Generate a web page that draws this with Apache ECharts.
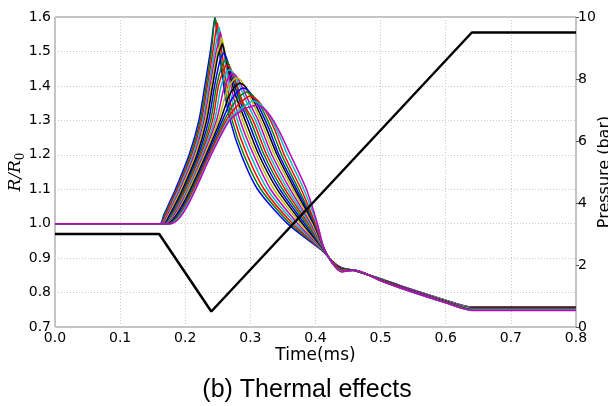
<!DOCTYPE html>
<html><head><meta charset="utf-8">
<script src="https://cdn.jsdelivr.net/npm/echarts@6/dist/echarts.min.js"></script>
<style>html,body{margin:0;padding:0;background:#fff}#c{width:608px;height:406px}</style>
</head><body><div id="c"></div>
<script>
// Time (ms) ticks
const timeTicks = [0.0,0.1,0.2,0.3,0.4,0.5,0.6,0.7,0.8];
const radiusTicks = [0.7,0.8,0.9,1.0,1.1,1.2,1.3,1.4,1.5,1.6];
const pressureTicks = [0,2,4,6,8,10];

// Pressure signal: [time (ms), pressure (bar)]
const pressureTime = [0, 0.16, 0.24, 0.64, 0.8];
const pressureValue = [3, 3, 0.5, 9.5, 9.5];

// R/R0 curves: [time (ms), R/R0]
const r00 = [[0,1],[0.161,1],[0.167,1.025],[0.173,1.05],[0.185,1.10],[0.206,1.20],[0.221,1.30],[0.230,1.40],[0.2385,1.50],[0.2435,1.575],[0.2455,1.598],[0.2475,1.575],[0.2525,1.50],[0.259,1.40],[0.269,1.30],[0.286,1.20],[0.311,1.10],[0.357,1.00],[0.412,0.919],[0.425,0.892],[0.44,0.872],[0.46,0.864],[0.50,0.840],[0.53,0.820],[0.60,0.778],[0.64,0.758],[0.8,0.758]];
const r01 = [[0,1],[0.162,1],[0.168,1.024],[0.1745,1.05],[0.187,1.10],[0.208,1.20],[0.223,1.30],[0.232,1.40],[0.240,1.50],[0.244,1.575],[0.246,1.597],[0.248,1.575],[0.253,1.50],[0.261,1.40],[0.272,1.30],[0.290,1.20],[0.316,1.10],[0.361,1.00],[0.412,0.920],[0.425,0.892],[0.44,0.871],[0.46,0.864],[0.50,0.840],[0.53,0.820],[0.60,0.778],[0.64,0.757],[0.8,0.757]];
const r02 = [[0,1],[0.163,1],[0.1695,1.024],[0.176,1.05],[0.188,1.10],[0.210,1.20],[0.225,1.30],[0.234,1.40],[0.2425,1.50],[0.247,1.56],[0.249,1.583],[0.251,1.56],[0.256,1.50],[0.264,1.40],[0.276,1.30],[0.295,1.20],[0.321,1.10],[0.365,1.00],[0.412,0.921],[0.425,0.892],[0.44,0.871],[0.46,0.864],[0.50,0.839],[0.53,0.819],[0.60,0.777],[0.64,0.757],[0.8,0.757]];
const r03 = [[0,1],[0.164,1],[0.171,1.023],[0.178,1.05],[0.190,1.10],[0.212,1.20],[0.227,1.30],[0.236,1.40],[0.245,1.50],[0.250,1.55],[0.252,1.570],[0.254,1.55],[0.259,1.50],[0.267,1.40],[0.280,1.30],[0.300,1.20],[0.326,1.10],[0.369,1.00],[0.412,0.922],[0.425,0.891],[0.44,0.870],[0.46,0.864],[0.50,0.839],[0.53,0.819],[0.60,0.777],[0.64,0.756],[0.8,0.756]];
const r04 = [[0,1],[0.165,1],[0.172,1.023],[0.1795,1.05],[0.192,1.10],[0.214,1.20],[0.229,1.30],[0.238,1.40],[0.2475,1.50],[0.252,1.535],[0.254,1.556],[0.256,1.535],[0.261,1.49],[0.270,1.40],[0.284,1.30],[0.305,1.20],[0.331,1.10],[0.373,1.00],[0.412,0.923],[0.425,0.891],[0.44,0.870],[0.46,0.864],[0.50,0.839],[0.53,0.819],[0.60,0.776],[0.64,0.756],[0.8,0.756]];
const r05 = [[0,1],[0.166,1],[0.1735,1.022],[0.181,1.05],[0.194,1.10],[0.216,1.20],[0.231,1.30],[0.240,1.40],[0.250,1.50],[0.2535,1.52],[0.256,1.540],[0.2585,1.52],[0.264,1.47],[0.273,1.40],[0.288,1.30],[0.309,1.20],[0.336,1.10],[0.377,1.00],[0.412,0.924],[0.425,0.891],[0.44,0.869],[0.46,0.864],[0.50,0.838],[0.53,0.818],[0.60,0.776],[0.64,0.755],[0.8,0.755]];
const r06 = [[0,1],[0.167,1],[0.175,1.022],[0.183,1.05],[0.196,1.10],[0.218,1.20],[0.233,1.30],[0.242,1.40],[0.2505,1.49],[0.2545,1.51],[0.257,1.522],[0.2595,1.505],[0.266,1.45],[0.276,1.38],[0.292,1.30],[0.313,1.20],[0.341,1.10],[0.380,1.00],[0.412,0.925],[0.425,0.890],[0.44,0.869],[0.46,0.864],[0.50,0.838],[0.53,0.818],[0.60,0.775],[0.64,0.755],[0.8,0.755]];
const r07 = [[0,1],[0.168,1],[0.176,1.021],[0.1845,1.05],[0.198,1.10],[0.220,1.20],[0.236,1.30],[0.245,1.40],[0.2535,1.475],[0.259,1.495],[0.2645,1.475],[0.271,1.43],[0.281,1.37],[0.296,1.30],[0.317,1.20],[0.345,1.10],[0.383,1.00],[0.412,0.926],[0.425,0.890],[0.44,0.868],[0.46,0.865],[0.50,0.838],[0.53,0.818],[0.60,0.775],[0.64,0.754],[0.8,0.754]];
const r08 = [[0,1],[0.169,1],[0.1775,1.021],[0.186,1.05],[0.199,1.10],[0.222,1.20],[0.239,1.30],[0.248,1.40],[0.2565,1.46],[0.262,1.475],[0.2675,1.46],[0.275,1.42],[0.285,1.36],[0.300,1.30],[0.321,1.20],[0.349,1.10],[0.386,1.00],[0.412,0.927],[0.425,0.890],[0.44,0.867],[0.46,0.865],[0.50,0.837],[0.53,0.817],[0.60,0.774],[0.64,0.754],[0.8,0.754]];
const r09 = [[0,1],[0.170,1],[0.179,1.020],[0.188,1.05],[0.201,1.10],[0.224,1.20],[0.242,1.30],[0.251,1.40],[0.259,1.447],[0.264,1.460],[0.270,1.447],[0.278,1.41],[0.289,1.35],[0.304,1.30],[0.325,1.20],[0.353,1.10],[0.389,1.00],[0.412,0.928],[0.425,0.890],[0.44,0.867],[0.46,0.865],[0.50,0.837],[0.53,0.817],[0.60,0.774],[0.64,0.753],[0.8,0.753]];
const r10 = [[0,1],[0.170,1],[0.180,1.020],[0.1895,1.05],[0.203,1.10],[0.226,1.20],[0.245,1.30],[0.255,1.40],[0.2625,1.436],[0.268,1.447],[0.274,1.437],[0.283,1.402],[0.295,1.35],[0.308,1.30],[0.329,1.20],[0.357,1.10],[0.391,1.00],[0.412,0.929],[0.425,0.889],[0.44,0.866],[0.46,0.865],[0.50,0.837],[0.53,0.816],[0.60,0.773],[0.64,0.753],[0.8,0.753]];
const r11 = [[0,1],[0.171,1],[0.181,1.019],[0.191,1.05],[0.205,1.10],[0.228,1.20],[0.248,1.30],[0.259,1.39],[0.267,1.425],[0.273,1.435],[0.279,1.427],[0.288,1.395],[0.300,1.345],[0.312,1.30],[0.333,1.20],[0.361,1.10],[0.393,1.00],[0.412,0.930],[0.425,0.889],[0.44,0.865],[0.46,0.865],[0.50,0.836],[0.53,0.816],[0.60,0.773],[0.64,0.752],[0.8,0.752]];
const r12 = [[0,1],[0.172,1],[0.1825,1.019],[0.193,1.05],[0.206,1.10],[0.230,1.20],[0.251,1.30],[0.263,1.38],[0.272,1.413],[0.279,1.423],[0.286,1.415],[0.294,1.388],[0.305,1.345],[0.318,1.29],[0.337,1.20],[0.365,1.10],[0.395,1.00],[0.412,0.931],[0.425,0.889],[0.44,0.865],[0.46,0.865],[0.50,0.836],[0.53,0.815],[0.60,0.772],[0.64,0.752],[0.8,0.752]];
const r13 = [[0,1],[0.173,1],[0.1835,1.018],[0.1945,1.05],[0.208,1.10],[0.232,1.20],[0.254,1.30],[0.267,1.37],[0.2765,1.398],[0.284,1.408],[0.2915,1.400],[0.300,1.375],[0.310,1.338],[0.323,1.284],[0.341,1.20],[0.368,1.10],[0.397,1.00],[0.412,0.932],[0.425,0.889],[0.44,0.864],[0.46,0.865],[0.50,0.836],[0.53,0.815],[0.60,0.772],[0.64,0.751],[0.8,0.751]];
const r14 = [[0,1],[0.174,1],[0.185,1.018],[0.196,1.05],[0.210,1.10],[0.234,1.20],[0.257,1.30],[0.271,1.36],[0.281,1.384],[0.289,1.394],[0.297,1.386],[0.306,1.363],[0.315,1.332],[0.328,1.278],[0.344,1.20],[0.371,1.10],[0.398,1.00],[0.412,0.932],[0.425,0.888],[0.44,0.863],[0.46,0.865],[0.50,0.835],[0.53,0.815],[0.60,0.771],[0.64,0.751],[0.8,0.751]];
const r15 = [[0,1],[0.175,1],[0.1865,1.017],[0.198,1.05],[0.211,1.10],[0.236,1.20],[0.260,1.30],[0.275,1.35],[0.2855,1.372],[0.294,1.382],[0.3025,1.374],[0.311,1.355],[0.320,1.326],[0.333,1.272],[0.348,1.20],[0.374,1.10],[0.399,1.00],[0.412,0.933],[0.425,0.888],[0.44,0.863],[0.46,0.865],[0.50,0.835],[0.53,0.814],[0.60,0.771],[0.64,0.750],[0.8,0.750]];
const r16 = [[0,1],[0.176,1],[0.188,1.016],[0.1995,1.05],[0.213,1.10],[0.237,1.20],[0.263,1.30],[0.279,1.34],[0.290,1.36],[0.299,1.370],[0.308,1.363],[0.317,1.345],[0.326,1.318],[0.338,1.27],[0.352,1.20],[0.378,1.10],[0.400,1.00],[0.412,0.933],[0.425,0.888],[0.44,0.862],[0.46,0.865],[0.50,0.835],[0.53,0.814],[0.60,0.770],[0.64,0.749],[0.8,0.749]];
const r17 = [[0,1],[0.177,1],[0.189,1.016],[0.201,1.05],[0.215,1.10],[0.239,1.20],[0.266,1.30],[0.283,1.33],[0.295,1.347],[0.304,1.356],[0.313,1.350],[0.322,1.333],[0.331,1.308],[0.343,1.262],[0.357,1.20],[0.382,1.10],[0.402,1.00],[0.412,0.934],[0.425,0.887],[0.44,0.861],[0.46,0.865],[0.50,0.834],[0.53,0.813],[0.60,0.770],[0.64,0.749],[0.8,0.749]];
const r18 = [[0,1],[0.178,1],[0.1905,1.015],[0.203,1.05],[0.216,1.10],[0.240,1.20],[0.268,1.30],[0.288,1.33],[0.299,1.339],[0.309,1.343],[0.318,1.338],[0.327,1.322],[0.336,1.298],[0.348,1.255],[0.3615,1.20],[0.386,1.10],[0.403,1.00],[0.412,0.934],[0.425,0.887],[0.44,0.860],[0.46,0.865],[0.50,0.834],[0.53,0.813],[0.60,0.770],[0.64,0.748],[0.8,0.748]];

const radiusCurves = [r00,r01,r02,r03,r04,r05,r06,r07,r08,r09,r10,r11,r12,r13,r14,r15,r16,r17,r18];
const cycleColors = ['#0000ff','#008000','#ff0000','#00bfbf','#bf00bf','#bfbf00','#000000'];

const chart = echarts.init(document.getElementById('c'), null, {renderer:'canvas'});
const tickFont = {fontFamily:'DejaVu Sans', fontSize:14, color:'#000'};
const series = radiusCurves.map((d,i)=>({
  type:'line', yAxisIndex:0, data:d, showSymbol:false, symbol:'none',
  smooth:0.25, lineStyle:{width:1.5, color:cycleColors[i%7]}, silent:true, z:2
}));
series.push({
  type:'line', yAxisIndex:1, data:pressureTime.map((t,i)=>[t,pressureValue[i]]),
  showSymbol:false, symbol:'none', lineStyle:{width:2.5,color:'#000'}, silent:true, z:5
});
chart.setOption({
  animation:false,
  backgroundColor:'#fff',
  grid:{left:55,right:32,top:17,bottom:79,containLabel:false,outerBoundsMode:'none',show:true,borderColor:'#888',borderWidth:1,backgroundColor:'transparent'},
  xAxis:{type:'value',min:timeTicks[0],max:timeTicks[timeTicks.length-1],interval:0.1,
    name:'Time(ms)',nameLocation:'middle',nameGap:20,nameMoveOverlap:false,
    nameTextStyle:{fontFamily:'DejaVu Sans',fontSize:17,color:'#000',verticalAlign:'top'},
    axisLine:{show:false},axisTick:{show:false},
    axisLabel:Object.assign({margin:4,formatter:v=>v.toFixed(1),hideOverlap:false},tickFont),
    splitLine:{show:true,lineStyle:{color:'#c8c8c8',type:[1,2],width:1}}},
  yAxis:[
    {type:'value',min:radiusTicks[0],max:radiusTicks[radiusTicks.length-1],interval:0.1,
     name:'{i|R/R}{s|0}',nameLocation:'middle',nameGap:28,nameRotate:90,nameMoveOverlap:false,
     nameTextStyle:{rich:{i:{fontFamily:'DejaVu Serif',fontStyle:'italic',fontSize:17,lineHeight:22,color:'#000'},
                          s:{fontFamily:'DejaVu Serif',fontSize:12,lineHeight:12,verticalAlign:'bottom',color:'#000'}}},
     axisLine:{show:false},axisTick:{show:false},
     axisLabel:Object.assign({margin:4,formatter:v=>v.toFixed(1),hideOverlap:false},tickFont),
     splitLine:{show:true,lineStyle:{color:'#c8c8c8',type:[1,2],width:1}}},
    {type:'value',min:pressureTicks[0],max:pressureTicks[pressureTicks.length-1],interval:2,position:'right',
     name:'Pressure (bar)',nameLocation:'middle',nameGap:21,nameRotate:90,nameMoveOverlap:false,
     nameTextStyle:{fontFamily:'DejaVu Sans',fontSize:16,color:'#000'},
     axisLine:{show:false},axisTick:{show:true,length:3,inside:false,lineStyle:{color:'#555'}},
     axisLabel:Object.assign({margin:2,formatter:v=>String(v),hideOverlap:false},tickFont),
     splitLine:{show:false}}
  ],
  graphic:[{type:'text',x:307,y:390,style:{text:'(b) Thermal effects',fontFamily:'Liberation Sans',fontSize:25,fill:'#000',textAlign:'center',textVerticalAlign:'middle'}}],
  series:series
});
</script></body></html>
